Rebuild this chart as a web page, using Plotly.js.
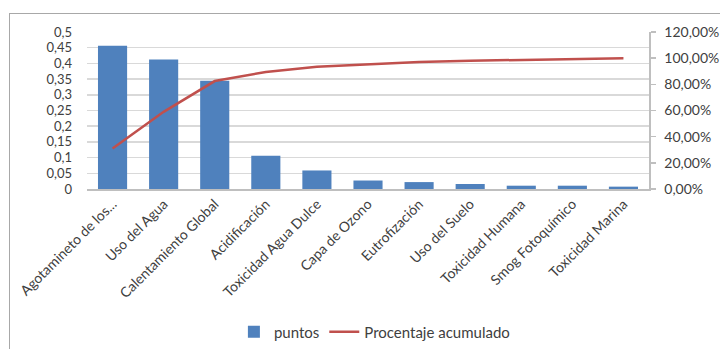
<!DOCTYPE html>
<html>
<head>
<meta charset="utf-8">
<script src="https://cdn.plot.ly/plotly-3.0.1.min.js"></script>
<style>
  html, body { margin: 0; padding: 0; background: #ffffff; }
  #wrap { position: relative; width: 720px; height: 349px; overflow: hidden; }
  #frame { position: absolute; left: 9px; top: 13px; width: 760px; height: 400px;
           border: 1.5px solid #a8a8a8; box-sizing: border-box; }
  #chart { position: absolute; left: 0; top: 0; width: 720px; height: 349px; }
</style>
</head>
<body>
<div id="wrap">
  <div id="frame"></div>
  <div id="chart"></div>
</div>
<script>
// Categories (impact categories)
const categories = [
  "Agotamineto de los...",
  "Uso del Agua",
  "Calentamiento Global",
  "Acidificación",
  "Toxicidad Agua Dulce",
  "Capa de Ozono",
  "Eutrofización",
  "Uso del Suelo",
  "Toxicidad Humana",
  "Smog Fotoquímico",
  "Toxicidad Marina"
];
// Bars: puntos
const puntos = [0.456, 0.4125, 0.345, 0.106, 0.059, 0.027, 0.022, 0.016, 0.0105, 0.0105, 0.0075];
// Line: Procentaje acumulado (fraction)
const acumulado = [0.31, 0.59, 0.825, 0.895, 0.935, 0.955, 0.97, 0.98, 0.988, 0.995, 1.0];

// Tick labels
const leftTickVals = [0, 0.05, 0.1, 0.15, 0.2, 0.25, 0.3, 0.35, 0.4, 0.45, 0.5];
const leftTickText = ["0", "0,05", "0,1", "0,15", "0,2", "0,25", "0,3", "0,35", "0,4", "0,45", "0,5"];
const rightTickVals = [0, 0.2, 0.4, 0.6, 0.8, 1.0, 1.2];
const rightTickText = ["0,00%", "20,00%", "40,00%", "60,00%", "80,00%", "100,00%", "120,00%"];

const txt = "#404040";
const fontFam = "Lato, 'Open Sans', sans-serif";

const data = [
  {
    type: "bar",
    name: "puntos",
    x: categories,
    y: puntos,
    marker: { color: "#4f81bd" },
    yaxis: "y"
  },
  {
    type: "scatter",
    mode: "lines",
    name: "Procentaje acumulado",
    x: categories,
    y: acumulado,
    line: { color: "#c0504d", width: 2.5 },
    yaxis: "y2"
  }
];

const layout = {
  width: 720,
  height: 349,
  margin: { l: 87, r: 71, t: 32, b: 160, pad: 0 },
  paper_bgcolor: "rgba(0,0,0,0)",
  plot_bgcolor: "rgba(0,0,0,0)",
  font: { family: fontFam, size: 14, color: txt },
  bargap: 0.43,
  showlegend: true,
  legend: {
    orientation: "h",
    xref: "container",
    yref: "container",
    x: 0.52, xanchor: "center",
    y: 0.049, yanchor: "middle",
    font: { family: fontFam, size: 15, color: txt },
    bgcolor: "rgba(0,0,0,0)",
    traceorder: "normal"
  },
  xaxis: {
    type: "category",
    tickangle: -45,
    showgrid: false,
    showline: true,
    linecolor: "#bfbfbf",
    linewidth: 1.5,
    ticks: "",
    tickfont: { family: fontFam, size: 14, color: txt },
    automargin: false
  },
  yaxis: {
    range: [0, 0.5],
    tickvals: leftTickVals,
    ticktext: leftTickText,
    showgrid: true,
    gridcolor: "#d9d9d9",
    gridwidth: 1.5,
    zeroline: false,
    showline: false,
    ticks: "",
    ticklabelstandoff: 14,
    tickfont: { family: fontFam, size: 13, color: txt },
    automargin: false
  },
  yaxis2: {
    overlaying: "y",
    side: "right",
    range: [0, 1.2],
    tickvals: rightTickVals,
    ticktext: rightTickText,
    showgrid: false,
    zeroline: false,
    showline: true,
    linecolor: "#bfbfbf",
    linewidth: 1.5,
    ticks: "outside",
    ticklen: 5,
    tickcolor: "#bfbfbf",
    tickwidth: 1.5,
    ticklabelstandoff: 6,
    tickfont: { family: fontFam, size: 14, color: txt },
    automargin: false
  }
};

Plotly.newPlot("chart", data, layout, { staticPlot: true, displayModeBar: false });
</script>
</body>
</html>
